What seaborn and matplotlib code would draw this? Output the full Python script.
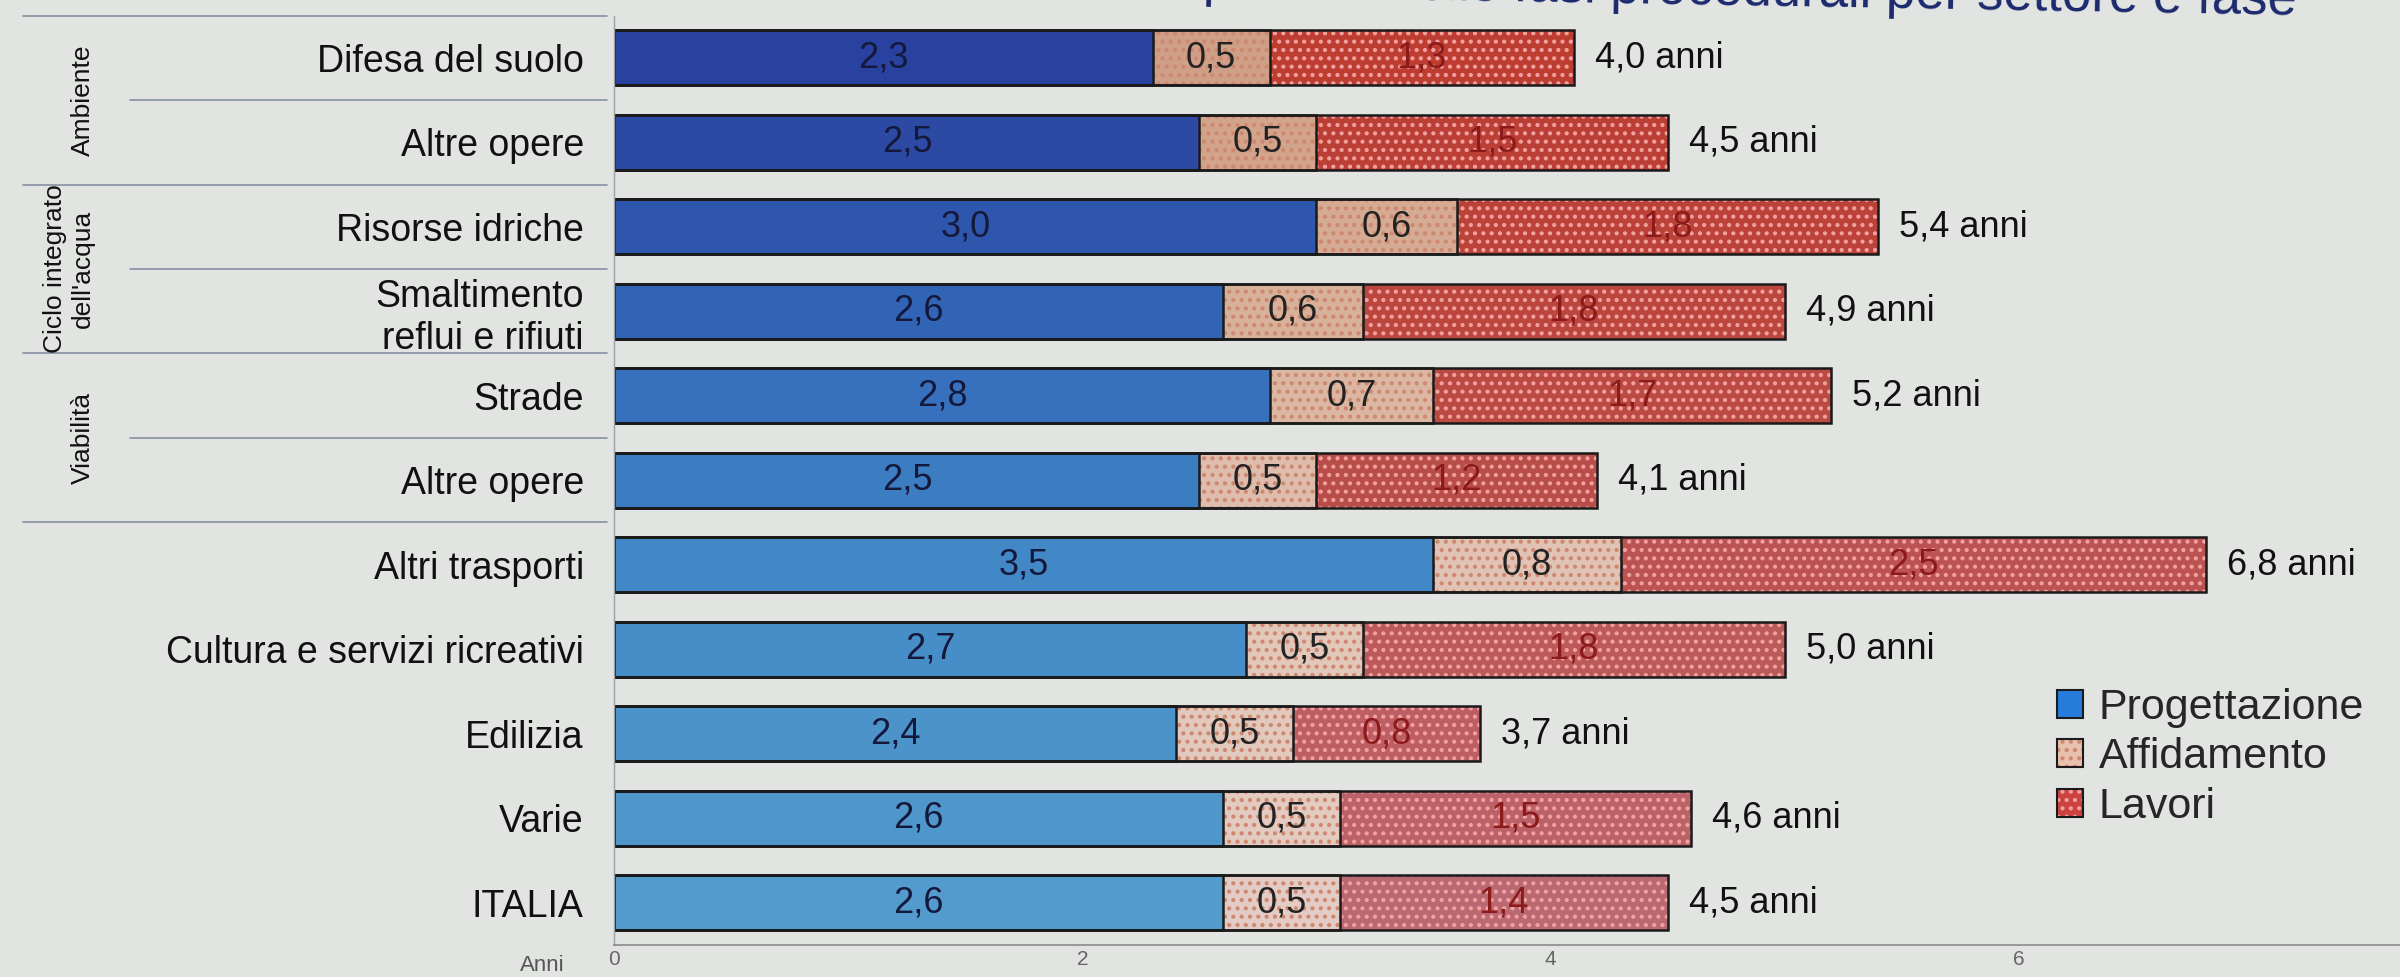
import numpy as np
import pandas as pd
import seaborn as sns
import matplotlib.pyplot as plt
from matplotlib.patches import Patch
from matplotlib.transforms import blended_transform_factory

# durata media (anni) delle fasi per settore
settori = ['Difesa del suolo', 'Altre opere', 'Risorse idriche', 'Smaltimento\nreflui e rifiuti',
           'Strade', 'Altre opere', 'Altri trasporti', 'Cultura e servizi ricreativi',
           'Edilizia', 'Varie', 'ITALIA']
progettazione = [2.3, 2.5, 3.0, 2.6, 2.8, 2.5, 3.5, 2.7, 2.4, 2.6, 2.6]
affidamento = [0.5, 0.5, 0.6, 0.6, 0.7, 0.5, 0.8, 0.5, 0.5, 0.5, 0.5]
lavori = [1.3, 1.5, 1.8, 1.8, 1.7, 1.2, 2.5, 1.8, 0.8, 1.5, 1.4]
totale = [4.0, 4.5, 5.4, 4.9, 5.2, 4.1, 6.8, 5.0, 3.7, 4.6, 4.5]
fasi = ['Progettazione', 'Affidamento', 'Lavori']
gruppi = ['Ambiente', "Ciclo integrato\ndell'acqua", 'Viabilità']
gruppi_righe = [(0, 1), (2, 3), (4, 5)]
x_ticks = [0, 2, 4, 6]

# colori (sfumati dall'alto in basso come nella foto)
blu = ['#1636b2', '#1840b8', '#1a4ec2', '#1c5ecc', '#206ed4', '#267cd8',
       '#2c88dc', '#3290dd', '#3696de', '#3a9bdf', '#3e9fe0']
rosso = ['#d42a1a', '#d22c1e', '#d03022', '#d03428', '#ce382e', '#cc3c36',
         '#cc4240', '#cc4848', '#cc4e56', '#ca525c', '#c85a66']
salmone = ['#dc9a7c', '#dea080', '#e0a888', '#e2ae90', '#e4b49a', '#e6baa4',
           '#e8c0ae', '#e8c4b4', '#e8c6b8', '#e8c8bc', '#e8cac0']
bg = '#e2e4e2'

sns.set_theme(style='white')
plt.rcParams['font.family'] = ['Liberation Sans', 'DejaVu Sans']
plt.rcParams['hatch.linewidth'] = 1.8

df = pd.DataFrame({'riga': [str(i) for i in range(len(settori))],
                   'prog': progettazione, 'aff': affidamento, 'lav': lavori})
df['fine_aff'] = df['prog'] + df['aff']
df['fine_lav'] = df['fine_aff'] + df['lav']

fig, ax = plt.subplots(figsize=(24, 9.77), dpi=100)
fig.patch.set_facecolor(bg)
ax.set_facecolor(bg)
fig.subplots_adjust(left=0.256, right=1.0, top=0.984, bottom=0.033)

# barre impilate: dal totale verso l'inizio
strati = [('fine_lav', rosso, '#f2a0a0', '..'),
          ('fine_aff', salmone, '#cf8870', '..'),
          ('prog', blu, None, None)]
for col, colori, hcol, hatch in strati:
    n0 = len(ax.patches)
    sns.barplot(data=df, x=col, y='riga', hue='riga', orient='h', width=0.65,
                palette=dict(zip(df['riga'], colori)), legend=False,
                errorbar=None, ax=ax)
    for p in ax.patches[n0:]:
        if hatch:
            p.set_hatch(hatch)
            p.set_edgecolor(hcol)
        p.set_linewidth(0)

# contorni
for col in ['fine_lav', 'fine_aff', 'prog']:
    sns.barplot(data=df, x=col, y='riga', orient='h', width=0.65, fill=False,
                color='#1a1a1a', linewidth=1.8, errorbar=None, ax=ax)

def fmt(v):
    return f'{v:.1f}'.replace('.', ',')

for i, r in df.iterrows():
    ax.text(r['prog'] / 2, i, fmt(r['prog']), ha='center', va='center', fontsize=26, color='#14183a')
    ax.text(r['prog'] + r['aff'] / 2, i, fmt(r['aff']), ha='center', va='center', fontsize=26, color='#222222')
    ax.text(r['fine_aff'] + r['lav'] / 2, i, fmt(r['lav']), ha='center', va='center', fontsize=26, color='#8c1a1a')
    ax.text(r['fine_lav'] + 0.09, i, fmt(totale[i]) + ' anni', ha='left', va='center', fontsize=26, color='#111111')

ax.set_xlim(0, 7.63)
ax.set_xticks(x_ticks)
ax.set_xticklabels([str(t) for t in x_ticks], fontsize=15, color='#666666')
ax.tick_params(axis='x', direction='in', length=8, color='#888888', pad=4)
ax.set_yticks(range(len(settori)))
ax.set_yticklabels(settori, fontsize=27, color='#111111')
ax.tick_params(axis='y', length=0, pad=22)
ax.set_xlabel('')
ax.set_ylabel('')
sns.despine(ax=ax, top=True, right=True)
ax.spines['left'].set_color('#9aa0a8')
ax.spines['left'].set_linewidth(1)
ax.spines['bottom'].set_color('#8a8a8a')
ax.spines['bottom'].set_linewidth(1.2)

# righe della tabella a sinistra e gruppi
tr = blended_transform_factory(fig.transFigure, ax.transData)
ax.plot([0.0096, 0.253], [-0.5, -0.5], transform=tr, color='#8890a0', lw=1.2, clip_on=False)
for nome, (a, b) in zip(gruppi, gruppi_righe):
    ax.plot([0.0096, 0.253], [b + 0.5, b + 0.5], transform=tr, color='#8890a0', lw=1.2, clip_on=False)
    ax.plot([0.054, 0.253], [a + 0.5, a + 0.5], transform=tr, color='#8890a0', lw=1.2, clip_on=False)
    ax.text(0.0395, (a + b) / 2, nome, transform=tr, rotation=90, ha='right', va='center',
            multialignment='center', fontsize=19, color='#111111')
ax.set_ylim(len(settori) - 0.5, -0.5)

# legenda
maniglie = [Patch(facecolor=blu[5], edgecolor='#1a1a1a', linewidth=1.5),
            (Patch(facecolor=salmone[6], edgecolor='#cf8870', hatch='..', linewidth=0),
             Patch(facecolor='none', edgecolor='#1a1a1a', linewidth=1.5)),
            (Patch(facecolor=rosso[6], edgecolor='#f2a0a0', hatch='..', linewidth=0),
             Patch(facecolor='none', edgecolor='#1a1a1a', linewidth=1.5))]
fig.legend(maniglie, fasi, loc='upper left', bbox_to_anchor=(0.848, 0.318), frameon=False,
           fontsize=31, handlelength=0.62, handleheight=0.62, handletextpad=0.35,
           labelspacing=0.22, borderpad=0)

fig.text(0.226, 0.012, 'Anni', fontsize=16, color='#555555', ha='center', va='center')
fig.text(0.957, 0.985, 'Tempi medi delle fasi procedurali per settore e fase', ha='right',
         va='baseline', fontsize=38, color='#1c2a6e', rotation=-1.0, rotation_mode='anchor')

fig.savefig('out.png', dpi=100, facecolor=bg)
